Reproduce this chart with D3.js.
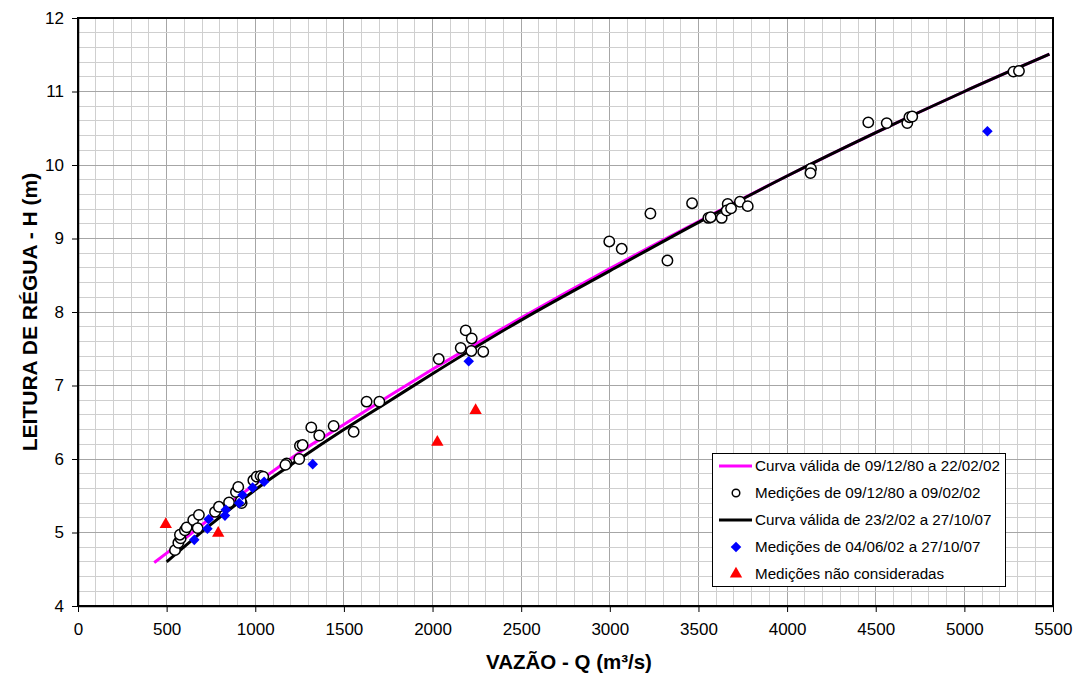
<!DOCTYPE html>
<html>
<head>
<meta charset="utf-8">
<script src="https://cdn.jsdelivr.net/npm/d3@7"></script>
<style>
  html, body { margin: 0; padding: 0; background: #fff; }
  svg { display: block; font-family: Arial, "Liberation Sans", sans-serif; }
</style>
</head>
<body>
<svg id="chart" width="1080" height="675"></svg>
<script>
// ---------- DATA ----------
const xTicks = [0, 500, 1000, 1500, 2000, 2500, 3000, 3500, 4000, 4500, 5000, 5500];
const yTicks = [4, 5, 6, 7, 8, 9, 10, 11, 12];

// Curva válida de 09/12/80 a 22/02/02  [Q, H]
const curveOld = [
  [430, 4.59], [500, 4.72], [750, 5.20], [1000, 5.66], [1250, 6.09], [1500, 6.47],
  [1750, 6.85], [2000, 7.22], [2500, 7.92], [3000, 8.59], [3500, 9.23],
  [4000, 9.85], [4500, 10.44], [5000, 11.00], [5480, 11.51]
];
// Curva válida de 23/2/02 a 27/10/07  [Q, H]
const curveNew = [
  [500, 4.60], [750, 5.11], [1000, 5.58], [1250, 6.00], [1500, 6.40], [1750, 6.78],
  [2000, 7.16], [2500, 7.89], [3000, 8.56], [3500, 9.22],
  [4000, 9.85], [4500, 10.44], [5000, 11.00], [5480, 11.51]
];
// Medições de 09/12/80 a 09/02/02
const measOld = [
  [547,4.76],[566,4.86],[579,4.92],[575,4.97],[603,5.03],[613,5.07],[650,5.17],[682,5.24],
  [675,5.06],[773,5.28],[795,5.35],[852,5.41],[891,5.55],[904,5.62],[923,5.40],[918,5.43],
  [989,5.71],[1008,5.76],[1030,5.77],[1045,5.76],[1177,5.94],[1170,5.92],[1248,6.00],
  [1252,6.18],[1267,6.19],[1316,6.43],[1361,6.32],[1442,6.45],[1555,6.37],[1628,6.78],
  [1700,6.78],[2035,7.36],[2159,7.51],[2187,7.75],[2221,7.64],[2219,7.47],[2286,7.46],
  [2997,8.96],[3067,8.86],[3229,9.34],[3325,8.70],[3464,9.48],[3556,9.28],[3569,9.29],
  [3631,9.28],[3665,9.47],[3659,9.38],[3684,9.41],[3734,9.50],[3778,9.44],[4135,9.95],
  [4132,9.89],[4458,10.58],[4562,10.57],[4678,10.57],[4690,10.65],[4706,10.66],
  [5277,11.27],[5308,11.28]
];
// Medições de 04/06/02 a 27/10/07
const measNew = [
  [656,4.90],[730,5.05],[737,5.18],[829,5.23],[834,5.31],[909,5.40],[928,5.51],
  [985,5.61],[1050,5.69],[1324,5.93],[2204,7.33],[5130,10.46]
];
// Medições não consideradas
const measIgnored = [[495,5.11],[791,4.99],[2027,6.23],[2243,6.66]];

const legendLabels = [
  "Curva válida de 09/12/80 a 22/02/02",
  "Medições de 09/12/80 a 09/02/02",
  "Curva válida de 23/2/02 a 27/10/07",
  "Medições de 04/06/02 a 27/10/07",
  "Medições não consideradas"
];

// ---------- DRAWING ----------
const svg = d3.select("#chart");
const L = 78, R = 1053, T = 18, B = 606;
const x = d3.scaleLinear().domain([0, 5500]).range([L, R]);
const y = d3.scaleLinear().domain([4, 12]).range([B, T]);

// grid
const g = svg.append("g");
d3.range(0, 5501, 100).forEach(v => {
  const major = v % 500 === 0;
  g.append("line").attr("x1", x(v)).attr("x2", x(v)).attr("y1", T).attr("y2", B)
    .attr("stroke", major ? "#a6a6a6" : "#cfcfcf").attr("stroke-width", 1)
    .attr("shape-rendering", "crispEdges");
});
d3.range(0, 41).map(i => 4 + i * 0.2).forEach((v, i) => {
  const major = i % 5 === 0;
  g.append("line").attr("x1", L).attr("x2", R).attr("y1", y(v)).attr("y2", y(v))
    .attr("stroke", major ? "#a6a6a6" : "#cfcfcf").attr("stroke-width", 1)
    .attr("shape-rendering", "crispEdges");
});

// frame
svg.append("rect").attr("x", L).attr("y", T).attr("width", R - L).attr("height", B - T)
  .attr("fill", "none").attr("stroke", "#000").attr("stroke-width", 1.3)
  .attr("shape-rendering", "crispEdges");

// axes
const xAxis = d3.axisBottom(x).tickValues(xTicks).tickFormat(d3.format("d"))
  .tickSize(6).tickSizeOuter(0).tickPadding(6);
const yAxis = d3.axisLeft(y).tickValues(yTicks).tickFormat(d3.format("d"))
  .tickSize(6).tickSizeOuter(0).tickPadding(6);
const gx = svg.append("g").attr("transform", `translate(0,${B})`).call(xAxis);
const gy = svg.append("g").attr("transform", `translate(${L},0)`).call(yAxis);
[gx, gy].forEach(a => {
  a.select(".domain").attr("stroke", "#000").attr("stroke-width", 1.5);
  a.selectAll(".tick line").attr("stroke", "#000");
  a.selectAll(".tick text").attr("font-size", 17).attr("fill", "#000")
    .attr("font-family", "Arial, 'Liberation Sans', sans-serif");
});
gx.selectAll(".tick text").attr("dy", "1.0em");
gy.selectAll(".tick text").attr("dx", "-2");

// axis titles
svg.append("text").attr("x", 569).attr("y", 669).attr("text-anchor", "middle")
  .attr("font-size", 20.5).attr("font-weight", "bold").text("VAZÃO - Q (m³/s)");
svg.append("text").attr("transform", "translate(37,312) rotate(-90)").attr("text-anchor", "middle")
  .attr("font-size", 21).attr("font-weight", "bold").text("LEITURA DE RÉGUA - H (m)");

// curves
const line = d3.line().x(d => x(d[0])).y(d => y(d[1])).curve(d3.curveMonotoneX);
svg.append("path").datum(curveOld).attr("d", line).attr("fill", "none")
  .attr("stroke", "#ff00ff").attr("stroke-width", 3);
svg.append("path").datum(curveNew).attr("d", line).attr("fill", "none")
  .attr("stroke", "#000").attr("stroke-width", 3);

// markers
const circ = d3.symbol().type(d3.symbolCircle).size(85);
const diam = d3.symbol().type(d3.symbolSquare).size(56);
const tri = d3.symbol().type(d3.symbolTriangle).size(66);

svg.append("g").selectAll("path").data(measOld).join("path")
  .attr("transform", d => `translate(${x(d[0])},${y(d[1])})`).attr("d", circ)
  .attr("fill", "#fff").attr("stroke", "#000").attr("stroke-width", 1.5);
svg.append("g").selectAll("path").data(measNew).join("path")
  .attr("transform", d => `translate(${x(d[0])},${y(d[1])}) rotate(45)`).attr("d", diam)
  .attr("fill", "#0000ff");
svg.append("g").selectAll("path").data(measIgnored).join("path")
  .attr("transform", d => `translate(${x(d[0])},${y(d[1])})`).attr("d", tri)
  .attr("fill", "#ff0000");

// legend
const lg = svg.append("g");
lg.append("rect").attr("x", 712.5).attr("y", 453.5).attr("width", 293).attr("height", 133)
  .attr("fill", "#fff").attr("stroke", "#000").attr("stroke-width", 1);
const rowY = [466, 493, 520, 547, 574];
legendLabels.forEach((t, i) => {
  const yy = rowY[i];
  if (i === 0 || i === 2) {
    lg.append("line").attr("x1", 719).attr("x2", 752).attr("y1", yy).attr("y2", yy)
      .attr("stroke", i === 0 ? "#ff00ff" : "#000").attr("stroke-width", 3);
  } else if (i === 1) {
    lg.append("path").attr("transform", `translate(736,${yy})`).attr("d", d3.symbol().type(d3.symbolCircle).size(45))
      .attr("fill", "#fff").attr("stroke", "#000").attr("stroke-width", 1.5);
  } else if (i === 3) {
    lg.append("path").attr("transform", `translate(736,${yy}) rotate(45)`).attr("d", diam).attr("fill", "#0000ff");
  } else {
    lg.append("path").attr("transform", `translate(736,${yy})`).attr("d", tri).attr("fill", "#ff0000");
  }
  lg.append("text").attr("x", 755).attr("y", yy).attr("dy", "0.36em")
    .attr("font-size", 15.2).attr("fill", "#000").text(t);
});
</script>
</body>
</html>
